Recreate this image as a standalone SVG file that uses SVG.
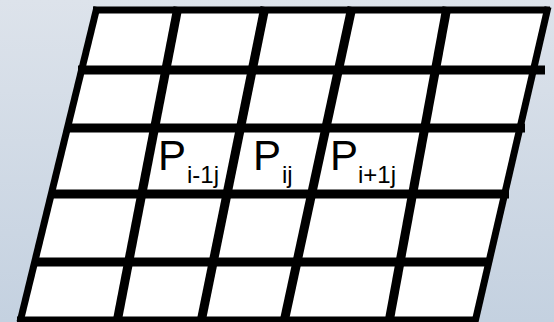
<svg xmlns="http://www.w3.org/2000/svg" width="554" height="322" viewBox="0 0 554 322">
<defs>
<linearGradient id="bg" x1="0" y1="0" x2="0" y2="1">
<stop offset="0" stop-color="#dde3eb"/>
<stop offset="1" stop-color="#c4d1e0"/>
</linearGradient>
<style>
.grid line{stroke:#000;stroke-linecap:butt}
.in{stroke-width:9}
.edge{stroke-width:7}
.p{font-family:"Liberation Sans","Open Sans",sans-serif;font-size:42px;fill:#000}
.s{font-family:"Liberation Sans","Open Sans",sans-serif;font-size:24px;fill:#000}
</style>
</defs>
<rect width="554" height="322" fill="url(#bg)"/>
<g id="sheet">
<polygon points="96,8 548,8 476,322 20,322" fill="#fff"/>
</g>
<g id="connectors" class="grid">
<line class="edge" x1="93" y1="10" x2="550" y2="10"/>
<line class="in" x1="78" y1="70" x2="545" y2="70"/>
<line class="in" x1="68" y1="128" x2="525" y2="128"/>
<line class="in" x1="52" y1="194" x2="509" y2="194"/>
<line class="in" x1="35" y1="262" x2="490" y2="262"/>
<line class="in" x1="17" y1="321" x2="478" y2="321"/>
<line class="edge" x1="97" y1="7" x2="20" y2="322"/>
<line class="edge" x1="548" y1="7" x2="475" y2="322"/>
<line class="in" x1="178" y1="7" x2="117" y2="322"/>
<line class="in" x1="265" y1="7" x2="201" y2="322"/>
<line class="in" x1="352" y1="7" x2="284" y2="322"/>
<line class="in" x1="447" y1="7" x2="389" y2="322"/>
</g>
<g id="p-im1j"><text class="p" x="158" y="170">P</text><text class="s" x="187" y="183">i-1j</text></g>
<g id="p-ij"><text class="p" x="253" y="170">P</text><text class="s" x="282" y="183">ij</text></g>
<g id="p-ip1j"><text class="p" x="330" y="170">P</text><text class="s" x="358" y="183">i+1j</text></g>
</svg>
